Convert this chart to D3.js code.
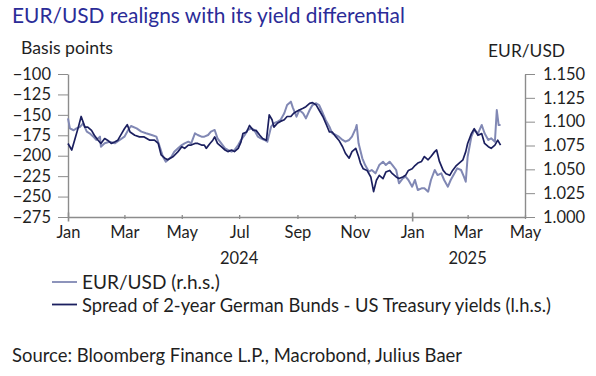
<!DOCTYPE html>
<html>
<head>
<meta charset="utf-8">
<script src="https://cdn.jsdelivr.net/npm/d3@7"></script>
<style>
  body { margin: 0; background: #fff; }
  svg text { font-family: Lato, "Open Sans", sans-serif; }
</style>
</head>
<body>
<div id="chart"></div>
<script>
// spread of 2-year German Bunds - US Treasury yields, basis points (l.h.s.)
var spreadDates = ["2024-01-01","2024-01-05","2024-01-08","2024-01-12","2024-01-15","2024-01-19","2024-01-22","2024-01-26","2024-01-29",
  "2024-02-02","2024-02-05","2024-02-09","2024-02-12","2024-02-16","2024-02-20","2024-02-23","2024-02-27",
  "2024-03-01","2024-03-04","2024-03-07","2024-03-12","2024-03-17","2024-03-22","2024-03-28",
  "2024-04-02","2024-04-06","2024-04-09","2024-04-13","2024-04-16","2024-04-22","2024-04-27",
  "2024-05-01","2024-05-04","2024-05-08","2024-05-11","2024-05-15","2024-05-18","2024-05-22","2024-05-25","2024-05-27","2024-05-31",
  "2024-06-03","2024-06-05","2024-06-08","2024-06-12","2024-06-16","2024-06-19","2024-06-23","2024-06-26","2024-06-30",
  "2024-07-03","2024-07-05","2024-07-09","2024-07-12","2024-07-16","2024-07-19","2024-07-23","2024-07-26","2024-07-30",
  "2024-08-02","2024-08-05","2024-08-07","2024-08-11","2024-08-14","2024-08-18","2024-08-21","2024-08-25","2024-08-28","2024-08-31",
  "2024-09-03","2024-09-07","2024-09-10","2024-09-14","2024-09-17","2024-09-21","2024-09-24","2024-09-28",
  "2024-10-01","2024-10-05","2024-10-08","2024-10-12","2024-10-15","2024-10-19","2024-10-22","2024-10-26","2024-10-29",
  "2024-11-02","2024-11-05","2024-11-07","2024-11-10","2024-11-14","2024-11-18","2024-11-21","2024-11-24","2024-11-27",
  "2024-12-01","2024-12-04","2024-12-08","2024-12-11","2024-12-15","2024-12-18","2024-12-22","2024-12-25","2024-12-28",
  "2025-01-01","2025-01-04","2025-01-07","2025-01-11","2025-01-14","2025-01-18","2025-01-21","2025-01-25","2025-01-27","2025-01-30",
  "2025-02-03","2025-02-06","2025-02-10","2025-02-13","2025-02-17","2025-02-20","2025-02-24","2025-02-27",
  "2025-03-01","2025-03-05","2025-03-08","2025-03-12","2025-03-16","2025-03-19","2025-03-23","2025-03-26","2025-03-30",
  "2025-04-02","2025-04-05"];
var spreadValues = [-185,-193,-181,-165,-152,-165,-165,-169,-175,
  -181,-185,-179,-181,-185,-183,-181,-173,
  -167,-162,-171,-175,-177,-177,-181,
  -181,-185,-199,-203,-205,-201,-195,
  -189,-191,-187,-187,-185,-185,-187,-187,-191,-185,
  -181,-177,-185,-189,-193,-195,-193,-195,-191,
  -183,-173,-171,-163,-169,-169,-175,-179,-181,
  -150,-156,-165,-160,-158,-156,-152,-152,-148,-146,
  -144,-142,-140,-136,-135,-138,-144,-152,
  -160,-171,-171,-177,-181,-189,-197,-203,-195,
  -191,-201,-209,-216,-218,-226,-244,-230,-224,
  -228,-220,-218,-222,-226,-228,-226,-224,-218,
  -216,-212,-209,-207,-201,-205,-201,-195,-193,-207,
  -218,-222,-224,-218,-212,-209,-205,-195,
  -185,-173,-167,-175,-173,-185,-189,-191,-187,
  -181,-187];

// EUR/USD exchange rate (r.h.s.)
var eurDates = ["2024-01-01","2024-01-03","2024-01-07","2024-01-10","2024-01-14","2024-01-17","2024-01-21","2024-01-24","2024-01-28","2024-01-31",
  "2024-02-04","2024-02-05","2024-02-09","2024-02-14","2024-02-20","2024-02-25",
  "2024-03-01","2024-03-05","2024-03-08","2024-03-14","2024-03-19","2024-03-24","2024-03-30",
  "2024-04-04","2024-04-07","2024-04-11","2024-04-14","2024-04-20","2024-04-23","2024-04-27",
  "2024-05-01","2024-05-04","2024-05-08","2024-05-11","2024-05-15","2024-05-18","2024-05-22","2024-05-25","2024-05-29",
  "2024-06-01","2024-06-05","2024-06-08","2024-06-12","2024-06-16","2024-06-19","2024-06-23","2024-06-26","2024-06-30",
  "2024-07-03","2024-07-07","2024-07-10","2024-07-14","2024-07-17","2024-07-21","2024-07-24","2024-07-28","2024-07-31",
  "2024-08-04","2024-08-07","2024-08-11","2024-08-14","2024-08-18","2024-08-21","2024-08-25","2024-08-27","2024-08-31",
  "2024-09-03","2024-09-07","2024-09-10","2024-09-14","2024-09-17","2024-09-21","2024-09-24","2024-09-28",
  "2024-10-01","2024-10-05","2024-10-08","2024-10-12","2024-10-15","2024-10-19","2024-10-22","2024-10-26","2024-10-29",
  "2024-11-02","2024-11-03","2024-11-05","2024-11-09","2024-11-12","2024-11-16","2024-11-19","2024-11-23","2024-11-27",
  "2024-12-01","2024-12-04","2024-12-08","2024-12-11","2024-12-15","2024-12-18","2024-12-22","2024-12-25","2024-12-28",
  "2025-01-01","2025-01-04","2025-01-07","2025-01-11","2025-01-14","2025-01-18","2025-01-21","2025-01-25","2025-01-28",
  "2025-02-01","2025-02-04","2025-02-08","2025-02-11","2025-02-15","2025-02-18","2025-02-22","2025-02-25","2025-02-27",
  "2025-03-01","2025-03-05","2025-03-08","2025-03-12","2025-03-16","2025-03-19","2025-03-23","2025-03-26","2025-03-30",
  "2025-04-01","2025-04-03","2025-04-05"];
var eurValues = [1.1035,1.093,1.091,1.093,1.0947,1.0983,1.0895,1.0878,1.0843,1.0808,
  1.0843,1.0738,1.0773,1.079,1.0773,1.0808,
  1.0843,1.0913,1.0955,1.093,1.0895,1.0878,1.086,
  1.0843,1.0755,1.0632,1.058,1.0632,1.0685,1.072,
  1.0755,1.0773,1.079,1.0773,1.0878,1.086,1.0843,1.0843,1.086,
  1.0895,1.0913,1.0825,1.0773,1.072,1.0703,1.0685,1.0703,1.0755,
  1.0808,1.086,1.0913,1.093,1.0913,1.0843,1.0825,1.0808,1.079,
  1.0947,1.0983,1.1,1.1018,1.1088,1.1175,1.121,1.115,1.1052,
  1.1122,1.1088,1.1035,1.1122,1.1175,1.1193,1.1175,1.1088,
  1.1018,1.0947,1.0878,1.086,1.0843,1.0808,1.079,1.0808,1.0843,
  1.093,1.0965,1.0773,1.0616,1.0545,1.0475,1.0493,1.0458,1.0545,
  1.058,1.0545,1.058,1.0545,1.0493,1.0353,1.0406,1.0423,1.0388,
  1.0318,1.0388,1.0283,1.0301,1.0301,1.0266,1.0388,1.0493,1.044,
  1.0458,1.0388,1.0318,1.0388,1.0458,1.0511,1.0493,1.0423,1.037,
  1.0632,1.0843,1.0913,1.0878,1.0965,1.0878,1.0808,1.0825,1.079,
  1.1122,1.0965,1.0965];

var leftTicks = [-100,-125,-150,-175,-200,-225,-250,-275];
var rightTicks = [1.000,1.025,1.050,1.075,1.100,1.125,1.150];
var monthTicks = ["2024-01-01","2024-03-01","2024-05-01","2024-07-01","2024-09-01","2024-11-01","2025-01-01","2025-03-01","2025-05-01"];
var yearLabels = [{label: "2024", at: "2024-07-01"}, {label: "2025", at: "2025-03-01"}];
var legendItems = ["EUR/USD (r.h.s.)", "Spread of 2-year German Bunds - US Treasury yields (l.h.s.)"];

var W = 596, H = 376;
var plot = {left: 68, right: 525, top: 74, bottom: 217};
var navy = "#1b1f5f", slate = "#8188b4", axisGrey = "#8c8c8c", textCol = "#1f1f1f";
var tickFont = "16.5px";

var parse = d3.timeParse("%Y-%m-%d");

var svg = d3.select("#chart").append("svg")
    .attr("width", W)
    .attr("height", H);

// scale a text's font size so it spans the same width as in the original
function fitWidth(sel, target) {
    var base = parseFloat(sel.style("font-size"));
    var len = sel.node().getComputedTextLength();
    sel.style("font-size", (base * target / len).toFixed(2) + "px");
    return sel;
}

// title
fitWidth(svg.append("text")
    .attr("x", 12)
    .attr("y", 23)
    .style("font-size", "20px")
    .style("fill", "#2b2c98")
    .text("EUR/USD realigns with its yield differential"), 393);

// axis titles
fitWidth(svg.append("text")
    .attr("x", 21).attr("y", 54)
    .style("font-size", "16px").style("fill", textCol)
    .text("Basis points"), 92);
fitWidth(svg.append("text")
    .attr("x", 565).attr("y", 57)
    .attr("text-anchor", "end")
    .style("font-size", "16px").style("fill", textCol)
    .text("EUR/USD"), 77);

/*********************
 * SCALES
 *********************/
var x = d3.scaleTime()
    .domain([parse("2024-01-01"), parse("2025-05-01")])
    .range([plot.left, plot.right]);
var yL = d3.scaleLinear()
    .domain([-275, -100])
    .range([plot.bottom, plot.top]);
var yR = d3.scaleLinear()
    .domain([1.0, 1.15])
    .range([plot.bottom, plot.top]);

/*********************
 * AXES
 *********************/
var gL = svg.append("g")
    .attr("transform", "translate(" + plot.left + ",0)")
    .call(d3.axisLeft(yL).tickValues(leftTicks).tickSize(10).tickPadding(7).tickSizeOuter(0));
var gR = svg.append("g")
    .attr("transform", "translate(" + plot.right + ",0)")
    .call(d3.axisRight(yR).tickValues(rightTicks).tickSize(10).tickPadding(8).tickSizeOuter(0)
        .tickFormat(d3.format(".3f")));

var gX = svg.append("g")
    .attr("transform", "translate(0," + plot.bottom + ")")
    .call(d3.axisBottom(x).tickValues(monthTicks.map(parse)).tickSizeOuter(0)
        .tickFormat(d3.timeFormat("%b")));

// month ticks cross the axis line; January ticks are longer
gX.selectAll(".tick line")
    .attr("y1", function(d) { return d.getMonth() === 0 ? -4.5 : -2; })
    .attr("y2", function(d) { return d.getMonth() === 0 ? 4.5 : 2; })
    .attr("stroke-width", function(d) { return d.getMonth() === 0 ? 1.6 : 1.3; });
gX.selectAll(".tick text").attr("y", 21).attr("dy", 0);

[gL, gR, gX].forEach(function(g) {
    g.selectAll("path, line").attr("stroke", axisGrey);
    g.select(".domain").attr("stroke-width", 1.4);
    g.selectAll("text")
        .style("font-family", "Lato, 'Open Sans', sans-serif")
        .style("font-size", tickFont)
        .style("fill", textCol);
});

svg.selectAll("yearLabels")
    .data(yearLabels)
    .enter()
    .append("text")
    .attr("x", function(d) { return x(parse(d.at)); })
    .attr("y", 264)
    .attr("text-anchor", "middle")
    .style("font-size", tickFont).style("fill", textCol)
    .text(function(d) { return d.label; });

/*********************
 * LINES
 *********************/
var eurData = eurDates.map(function(d, i) { return {date: parse(d), v: eurValues[i]}; });
var spreadData = spreadDates.map(function(d, i) { return {date: parse(d), v: spreadValues[i]}; });

svg.append("path")
    .datum(eurData)
    .attr("fill", "none")
    .attr("stroke", slate)
    .attr("stroke-width", 2)
    .attr("stroke-linejoin", "round")
    .attr("d", d3.line().x(function(d) { return x(d.date); }).y(function(d) { return yR(d.v); }));

svg.append("path")
    .datum(spreadData)
    .attr("fill", "none")
    .attr("stroke", navy)
    .attr("stroke-width", 1.7)
    .attr("stroke-linejoin", "round")
    .attr("d", d3.line().x(function(d) { return x(d.date); }).y(function(d) { return yL(d.v); }));

/*********************
 * LEGEND
 *********************/
var legendColors = [slate, navy];
var legendWidths = [138, 469];
var leg = svg.selectAll("legend")
    .data(legendItems)
    .enter()
    .append("g")
    .attr("transform", function(d, i) { return "translate(52," + (282 + i * 22.5) + ")"; });
leg.append("line")
    .attr("x1", 0).attr("x2", 25)
    .attr("stroke", function(d, i) { return legendColors[i]; })
    .attr("stroke-width", 1.8);
leg.append("text")
    .attr("x", 30).attr("y", 7)
    .style("font-size", "17px").style("fill", textCol)
    .text(function(d) { return d; })
    .each(function(d, i) { fitWidth(d3.select(this), legendWidths[i]); });

// source
fitWidth(svg.append("text")
    .attr("x", 12).attr("y", 362)
    .style("font-size", "17px").style("fill", textCol)
    .text("Source: Bloomberg Finance L.P., Macrobond, Julius Baer"), 450);
</script>
</body>
</html>
